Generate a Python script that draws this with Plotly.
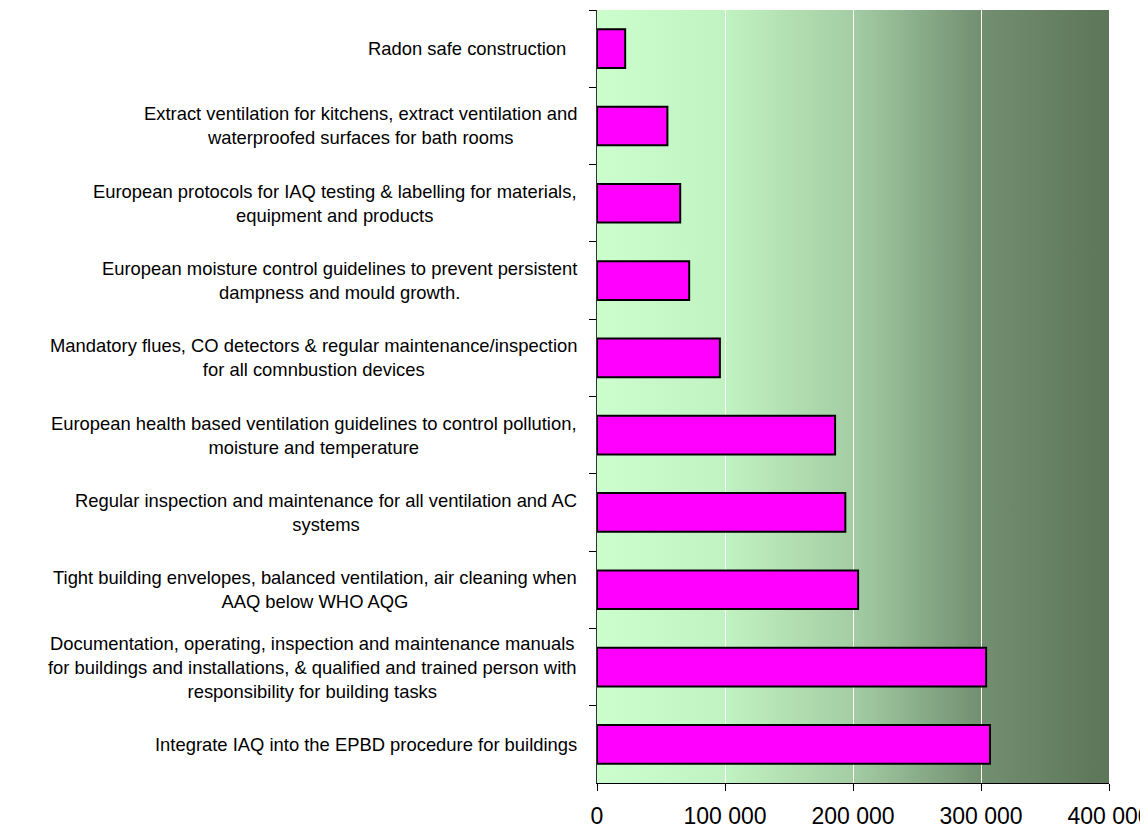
import base64
import plotly.graph_objects as go

# measures listed top to bottom as in the original chart
categories = [
    "Radon safe construction&nbsp;&nbsp;",
    "Extract ventilation for kitchens, extract ventilation and<br>waterproofed surfaces for bath rooms",
    "European protocols for IAQ testing & labelling for materials,<br>equipment and products",
    "European moisture control guidelines to prevent persistent<br>dampness and mould growth.",
    "Mandatory flues, CO detectors & regular maintenance/inspection<br>for all comnbustion devices",
    "European health based ventilation guidelines to control pollution,<br>moisture and temperature",
    "Regular inspection and maintenance for all ventilation and AC<br>systems",
    "Tight building envelopes, balanced ventilation, air cleaning when<br>AAQ below WHO AQG",
    "Documentation, operating, inspection and maintenance manuals<br>for buildings and installations, & qualified and trained person with<br>responsibility for building tasks",
    "Integrate IAQ into the EPBD procedure for buildings",
]
values = [22000, 55000, 65000, 72000, 96000, 186000, 194000, 204000, 304000, 307000]
x_ticks = [0, 100000, 200000, 300000, 400000]

FONT = "Liberation Sans, Arial, sans-serif"


def _gradient_background() -> str:
    """svg data uri for the light -> dark green plot background"""
    svg = (
        '<svg xmlns="http://www.w3.org/2000/svg" width="100" height="100" '
        'viewBox="0 0 100 100" preserveAspectRatio="none">'
        '<defs><linearGradient id="g" x1="0" y1="0" x2="1" y2="0">'
        '<stop offset="0" stop-color="rgb(204,253,204)"/>'
        '<stop offset="0.25" stop-color="rgb(193,242,193)"/>'
        '<stop offset="0.5" stop-color="rgb(164,205,164)"/>'
        '<stop offset="0.75" stop-color="rgb(114,143,112)"/>'
        '<stop offset="1" stop-color="rgb(93,117,89)"/>'
        '</linearGradient></defs>'
        '<rect x="0" y="0" width="100" height="100" fill="url(#g)"/></svg>'
    )
    return "data:image/svg+xml;base64," + base64.b64encode(svg.encode()).decode()


fig = go.Figure()

fig.add_trace(go.Bar(
    x=values,
    y=categories,
    orientation='h',
    marker=dict(color='#FF00FF', line=dict(color='black', width=2)),
    showlegend=False,
))

# left labels: block right aligned, lines centred inside the block
for cat in categories:
    fig.add_annotation(
        x=0, xref='paper', y=cat, yref='y',
        text=cat, showarrow=False,
        xanchor='right', yanchor='middle', align='center',
        xshift=-18,
        font=dict(family=FONT, size=18.4, color='black'),
    )

fig.add_layout_image(dict(
    source=_gradient_background(),
    xref='paper', yref='paper', x=0, y=1, sizex=1, sizey=1,
    xanchor='left', yanchor='top', sizing='stretch', layer='below',
))

# page body has an 8px margin, figure sized so it ends at the window edge
fig.update_layout(
    width=1140,
    height=820,
    margin=dict(l=589, r=39, t=2, b=45, autoexpand=False),
    paper_bgcolor='white',
    plot_bgcolor='rgba(0,0,0,0)',
    bargap=0.5,
    separators='. ',
    xaxis=dict(
        range=[0, 400000],
        tickvals=x_ticks,
        tickformat=',d',
        automargin=False,
        ticks='outside', ticklen=7, tickcolor='black',
        showline=True, linecolor='black', linewidth=1,
        showgrid=True, gridcolor='white', gridwidth=1,
        zeroline=False,
        ticklabelstandoff=5,
        ticklabeloverflow='allow',
        tickfont=dict(family=FONT, size=23, color='black'),
    ),
    yaxis=dict(
        autorange='reversed',
        automargin=False,
        showticklabels=False,
        tickson='boundaries',
        ticks='outside', ticklen=7, tickcolor='black',
        showline=True, linecolor='#333333', linewidth=1,
        showgrid=False, zeroline=False,
    ),
)

fig.write_html("out.html")
